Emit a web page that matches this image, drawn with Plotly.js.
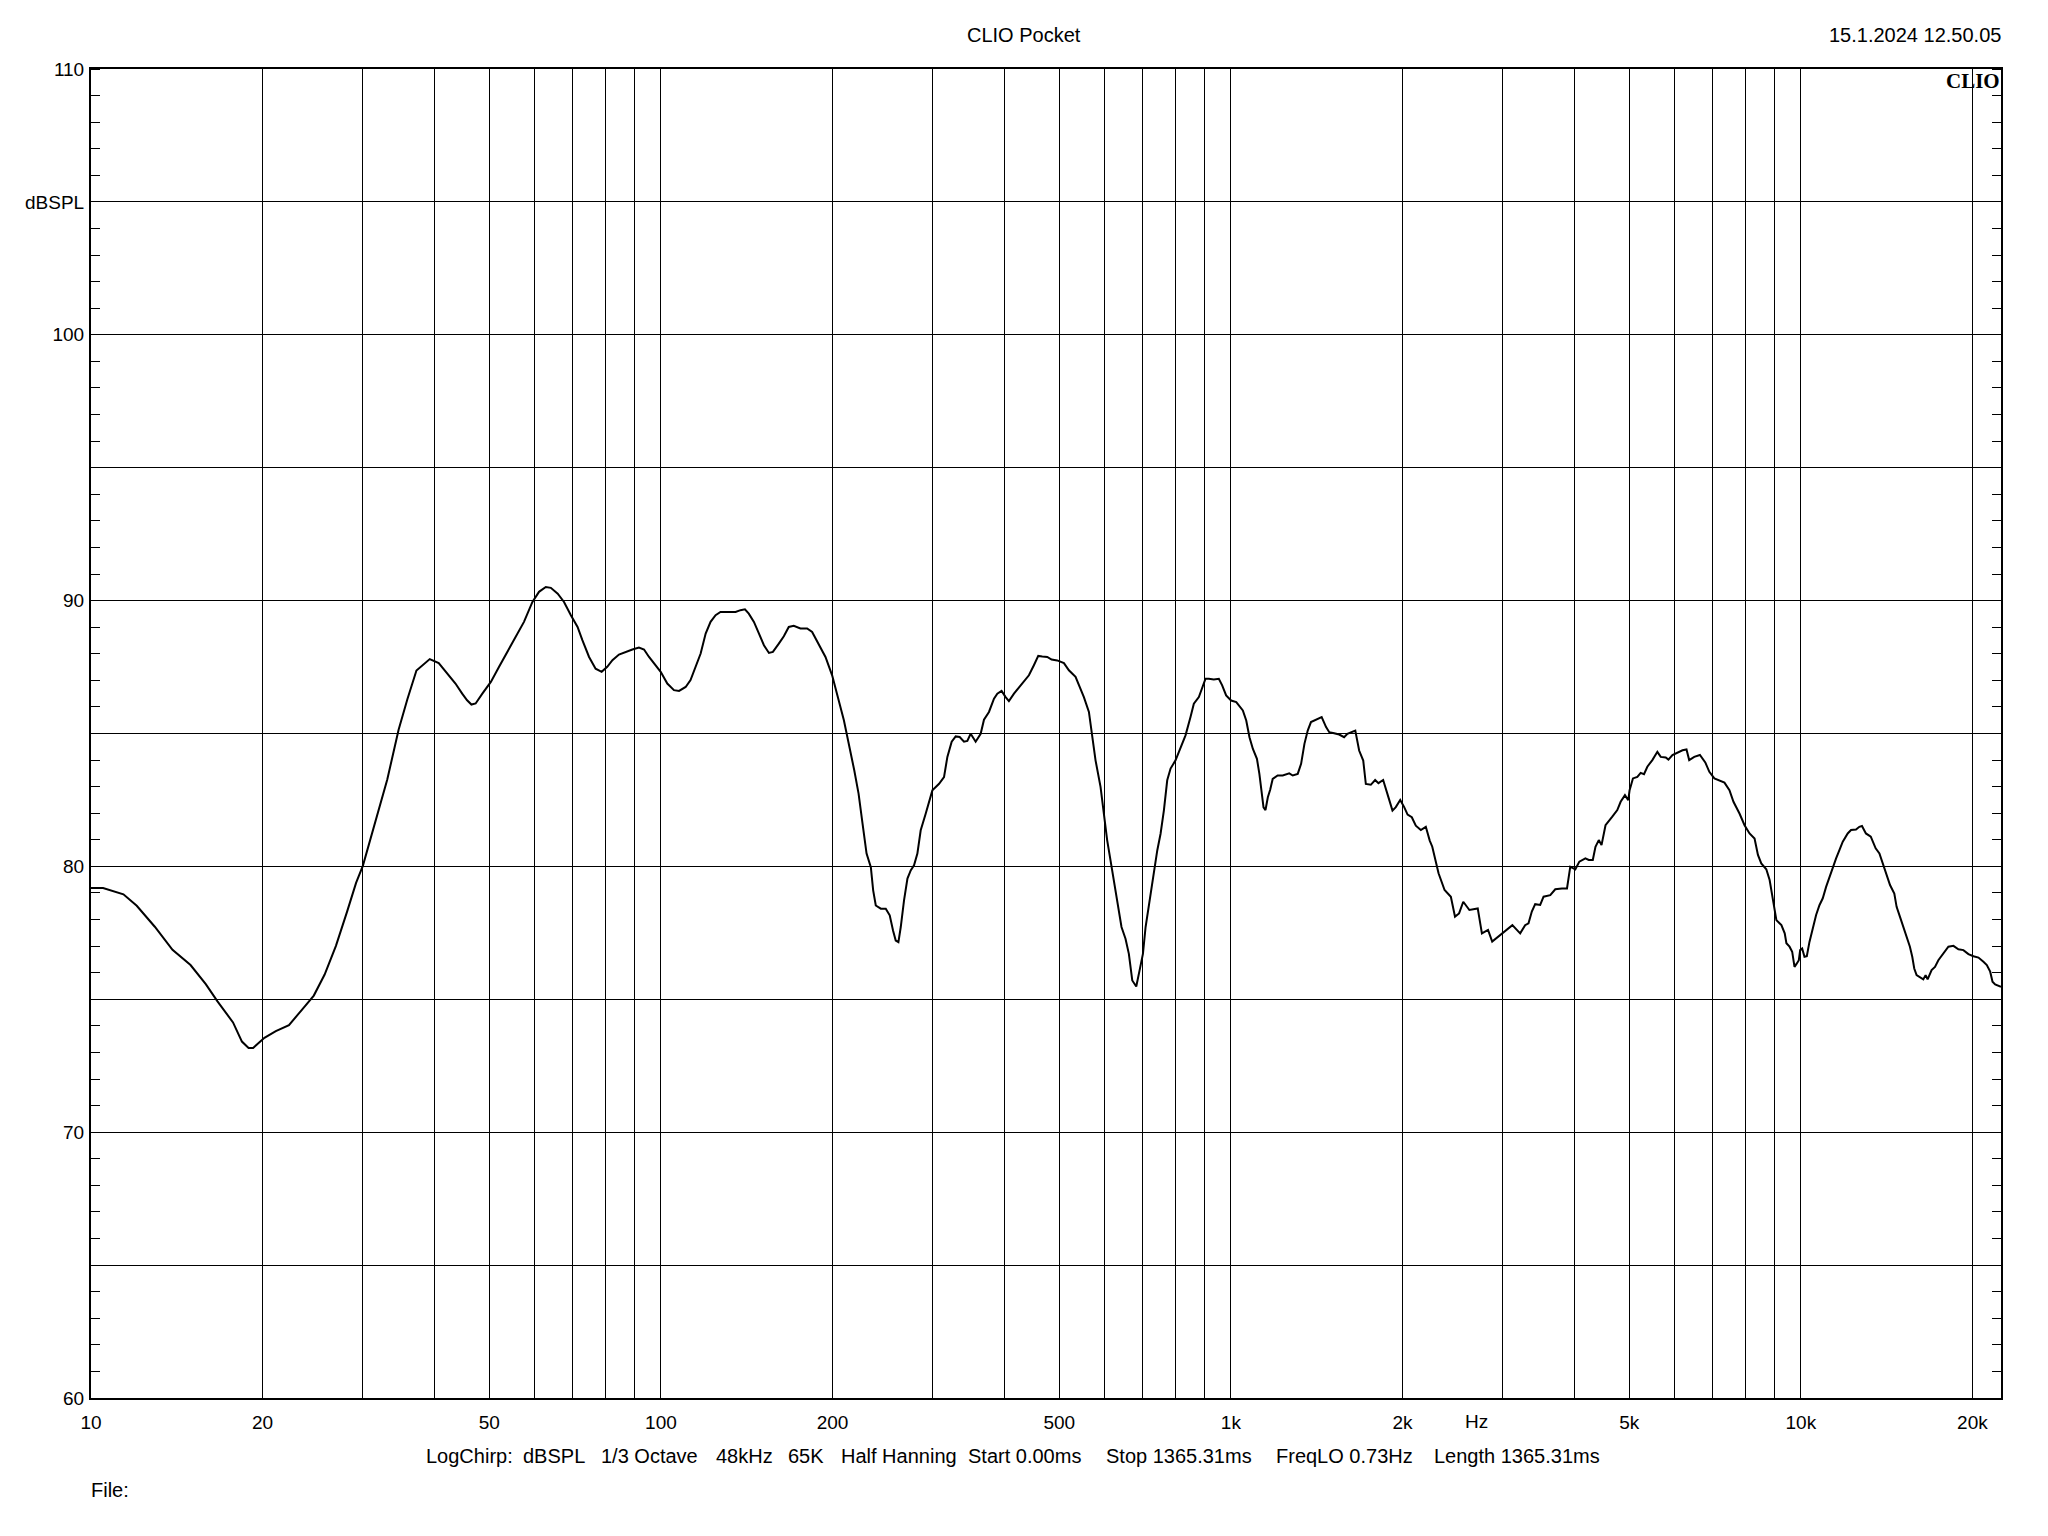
<!DOCTYPE html>
<html>
<head>
<meta charset="utf-8">
<script src="https://cdn.plot.ly/plotly-3.0.1.min.js"></script>
<style>html,body{margin:0;padding:0;background:#fff;}#chart{width:2048px;height:1536px;}</style>
</head>
<body>
<div id="chart"></div>
<script>
// Frequency (Hz) and level (dBSPL)
const freq = [10,10.5,11.4,12.03,12.94,13.9,14.95,15.9,16.67,17.75,18.4,18.9,19.25,20.15,21.1,22.25,23.5,24.6,25.7,26.9,28.14,29.18,30.0,31.36,33.1,34.65,35.9,37.24,39.3,40.75,
42.5,43.6,44.8,45.7,46.5,47.3,48.6,50.3,52.0,53.8,55.6,57.5,59.5,61.1,62.8,64.1,65.9,67.6,69.5,71.4,72.8,74.8,76.8,78.7,80.5,82.2,84.4,86.7,89.1,91.5,93.4,95.3,97.9,99.9,102.6,105.4,107.6,110.5,112.7,115.0,117.4,119.8,122.2,124.7,127.2,130.7,135.2,137.9,140.4,142.6,145.6,148.6,151.6,154.7,157.2,161.0,164.3,167.6,171.0,175.7,180.5,184.2,189.2,194.4,199.7,205.2,209.4,
218.4,222.2,225.8,229.5,233.5,235.7,238.2,243.1,248.0,252.0,255.4,258.2,261.0,263.5,267.0,270.7,274.3,278.0,281.8,285.6,291.4,295.4,299.4,307.6,313.8,318.1,323.7,329.0,334.3,340.2,344.8,349.5,356.6,363.9,368.8,376.3,384.0,389.2,396.0,402.5,407.9,416.3,424.7,433.4,442.2,451.2,459.2,466.7,476.2,484.6,495.8,509.4,519.7,533.9,542.6,552.2,563.5,571.1,578.8,590.6,598.6,606.7,614.9,623.3,634.3,642.8,653.3,662.2,671.4,682.3,691.5,700.9,708.5,720.0,732.8,742.7,752.7,762.9,773.2,783.7,799.6,815.9,832.5,849.5,861.0,878.6,890.5,902.6,914.8,933.4,952.5,965.4,
981,1001,1022,1049.5,1064,1078,1093,1111,1122,1130,1141,1150,1161,1172,1184,1208,1233,1266,1284,1310,1328,1346,1364,1382,1411,1443,1469,1488,1518,1549,1580,1601,1653,1679,1707,1725,1760,1791,1815,1850,1882,1921,1947,1982,2014,2042,2077,2111,2154,2198,2233,
2256,2314,2371,2432,2473,2514,2557,2621,2711,2757,2826,2874,2971,
3067,3118,3175,3218,3283,3328,3373,3419,3489,3537,3634,3708,3809,3888,3940,4021,4087,4188,4245,4315,4362,4421,4470,4543,4669,4764,4829,4914,4980,5007,5075,5166,5236,5307,5379,5489,5601,5678,5794,5857,5953,6075,6200,6301,6370,6501,6652,6798,6910,7052,7177,7345,7495,7618,7805,7966,8129,8295,8409,8523,8698,8816,8937,9059,9245,9370,9434,
9554,9657,9748,9840,9920,9973,10054,10149,10245,10355,10496,10637,10781,10927,11075,11225,11377,11531,11687,11846,12086,12249,12498,12666,12802,13008,13266,13530,13737,13963,14150,14339,14589,14725,14923,15125,15330,15538,15686,15813,15963,16181,16400,16555,16689,16962,17194,17430,17787,18151,18523,18901,19287,19681,20084,20495,20913,21200,21491,21694,21926,22277,22450];
const spl = [79.19,79.19,78.95,78.52,77.73,76.86,76.29,75.57,74.92,74.13,73.41,73.17,73.17,73.55,73.8,74.03,74.63,75.14,75.93,77.01,78.3,79.38,80.03,81.54,83.27,85.14,86.29,87.37,87.8,87.65,
87.19,86.88,86.5,86.25,86.09,86.13,86.5,86.94,87.51,88.07,88.63,89.2,89.95,90.33,90.51,90.48,90.26,89.95,89.45,89.01,88.51,87.88,87.44,87.32,87.51,87.76,87.97,88.07,88.16,88.23,88.16,87.88,87.57,87.32,86.88,86.63,86.6,86.75,87.01,87.51,88.01,88.76,89.2,89.45,89.57,89.57,89.57,89.64,89.67,89.51,89.2,88.76,88.32,88.03,88.07,88.38,88.66,89.01,89.05,88.95,88.95,88.82,88.38,87.88,87.19,86.25,85.5,
83.61,82.74,81.61,80.48,79.97,79.1,78.53,78.41,78.41,78.16,77.59,77.21,77.15,77.72,78.72,79.54,79.85,80.04,80.48,81.36,81.98,82.48,82.86,83.11,83.36,84.12,84.69,84.89,84.87,84.69,84.72,84.99,84.69,84.99,85.52,85.81,86.31,86.5,86.6,86.37,86.22,86.5,86.73,86.94,87.19,87.57,87.92,87.9,87.88,87.78,87.75,87.65,87.38,87.13,86.75,86.37,85.81,84.99,83.99,82.99,81.98,80.98,80.23,79.47,78.59,77.72,77.28,76.71,75.71,75.48,76.09,76.71,77.72,78.72,79.85,80.6,81.23,82.11,83.24,83.68,83.99,84.43,84.93,85.62,86.12,86.37,86.75,87.06,87.06,87.03,87.06,86.81,
86.43,86.24,86.18,85.87,85.49,84.86,84.42,84.05,83.48,82.91,82.22,82.12,82.6,82.88,83.29,83.42,83.42,83.5,83.42,83.48,83.86,84.61,85.11,85.43,85.52,85.62,85.24,85.05,85.01,84.96,84.86,84.99,85.11,84.36,83.98,83.1,83.07,83.25,83.13,83.25,82.73,82.1,82.23,82.5,82.23,81.95,81.85,81.53,81.37,81.49,80.97,
80.74,79.74,79.11,78.86,78.11,78.23,78.67,78.36,78.42,77.48,77.61,77.17,77.42,
77.67,77.79,77.61,77.48,77.79,77.86,78.3,78.58,78.55,78.86,78.92,79.14,79.17,79.17,79.99,79.89,80.18,80.3,80.24,80.24,80.74,80.99,80.8,81.55,81.87,82.12,82.43,82.68,82.49,82.87,83.31,83.37,83.52,83.47,83.75,84.0,84.31,84.12,84.1,84.02,84.19,84.27,84.37,84.4,84.0,84.12,84.19,83.91,83.56,83.31,83.25,83.15,82.87,82.43,81.99,81.55,81.24,81.05,80.43,80.11,79.89,79.49,78.73,77.98,77.79,77.48,77.11,
76.98,76.79,76.22,76.35,76.47,76.85,76.91,76.6,76.62,77.16,77.67,78.17,78.54,78.8,79.23,79.61,79.99,80.3,80.61,80.93,81.24,81.37,81.39,81.49,81.52,81.24,81.12,80.68,80.49,80.05,79.67,79.3,78.98,78.48,78.11,77.73,77.29,76.98,76.6,76.16,75.91,75.82,75.75,75.91,75.75,76.1,76.22,76.47,76.73,76.98,77.01,76.88,76.85,76.7,76.62,76.57,76.41,76.29,76.04,75.66,75.56,75.5,75.47];

const xTickVals = [10,20,30,40,50,60,70,80,90,100,200,300,400,500,600,700,800,900,1000,2000,3000,4000,5000,6000,7000,8000,9000,10000,20000];
const xTickText = ['10','20','','','50','','','','','100','200','','','500','','','','','1k','2k','','','5k','','','','','10k','20k'];
const yTickVals = [60,65,70,75,80,85,90,95,100,105,110];
const yTickText = ['60','','70','','80','','90','','100','dBSPL','110'];

const titleText = 'CLIO Pocket';
const dateText = '15.1.2024 12.50.05';
const logoText = 'CLIO';
const unitText = 'Hz';
const unitFreq = 2694;
const infoParts = ['LogChirp:','dBSPL','1/3 Octave','48kHz','65K','Half Hanning','Start 0.00ms','Stop 1365.31ms','FreqLO 0.73Hz','Length 1365.31ms'];
const fileText = 'File:';

// layout: left edges (paper fraction) of the info-line segments
const infoPos = [0.17539,0.22592,0.26702,0.32723,0.36492,0.39267,0.45916,0.53120,0.62016,0.70314];

const F = 'Liberation Sans, Arial, sans-serif';
const fs = 19;
const fa = 20;

const trace = {
  x: freq, y: spl, type: 'scatter', mode: 'lines',
  line: {color: '#000', width: 2}, hoverinfo: 'skip', showlegend: false
};

const annotations = [
  {text: titleText, xref: 'paper', yref: 'paper', x: 0.4885, y: 1.0256, xanchor: 'center', yanchor: 'middle', showarrow: false, font: {family: F, size: fa}},
  {text: dateText, xref: 'paper', yref: 'paper', x: 1.0, y: 1.0256, xanchor: 'right', yanchor: 'middle', xshift: 2, showarrow: false, font: {family: F, size: fa}},
  {text: '<b>' + logoText + '</b>', xref: 'paper', yref: 'paper', x: 1.0, y: 1.0, xanchor: 'right', yanchor: 'top', showarrow: false, yshift: 2, xshift: 1, font: {family: 'Liberation Serif, Times New Roman, serif', size: 21}},
  {text: unitText, xref: 'x', yref: 'paper', x: Math.log10(unitFreq), y: -0.0177, xanchor: 'center', yanchor: 'middle', showarrow: false, font: {family: F, size: fs}},
  {text: fileText, xref: 'paper', yref: 'paper', x: 0, y: -0.0689, xanchor: 'left', yanchor: 'middle', xshift: -2, showarrow: false, font: {family: F, size: fa}}
];
infoParts.forEach(function (t, i) {
  annotations.push({text: t, xref: 'paper', yref: 'paper', x: infoPos[i], y: -0.0433, xanchor: 'left', yanchor: 'middle', xshift: -2, showarrow: false, font: {family: F, size: fa}});
});

const layout = {
  width: 2048, height: 1536,
  paper_bgcolor: '#fff', plot_bgcolor: '#fff',
  margin: {l: 91, r: 47, t: 69, b: 138, pad: 0},
  font: {family: F, size: fs, color: '#000'},
  showlegend: false,
  xaxis: {
    type: 'log', range: [1, Math.log10(22450)], autorange: false,
    tickmode: 'array', tickvals: xTickVals, ticktext: xTickText,
    showgrid: true, gridcolor: '#000', gridwidth: 1,
    showline: true, linecolor: '#000', linewidth: 2, mirror: true,
    ticks: '', zeroline: false, ticklabelstandoff: 6,
    tickfont: {family: F, size: fs, color: '#000'}
  },
  yaxis: {
    range: [60, 110], autorange: false,
    tickmode: 'array', tickvals: yTickVals, ticktext: yTickText,
    showgrid: true, gridcolor: '#000', gridwidth: 1,
    showline: true, linecolor: '#000', linewidth: 2, mirror: 'allticks',
    ticks: '', zeroline: false, ticklabelstandoff: 1,
    tickfont: {family: F, size: fs, color: '#000'},
    minor: {tickmode: 'linear', tick0: 0, dtick: 1, ticks: 'inside', ticklen: 9, tickwidth: 1, tickcolor: '#000', showgrid: false}
  },
  annotations: annotations
};

Plotly.newPlot('chart', [trace], layout, {displayModeBar: false, staticPlot: true});
</script>
</body>
</html>
